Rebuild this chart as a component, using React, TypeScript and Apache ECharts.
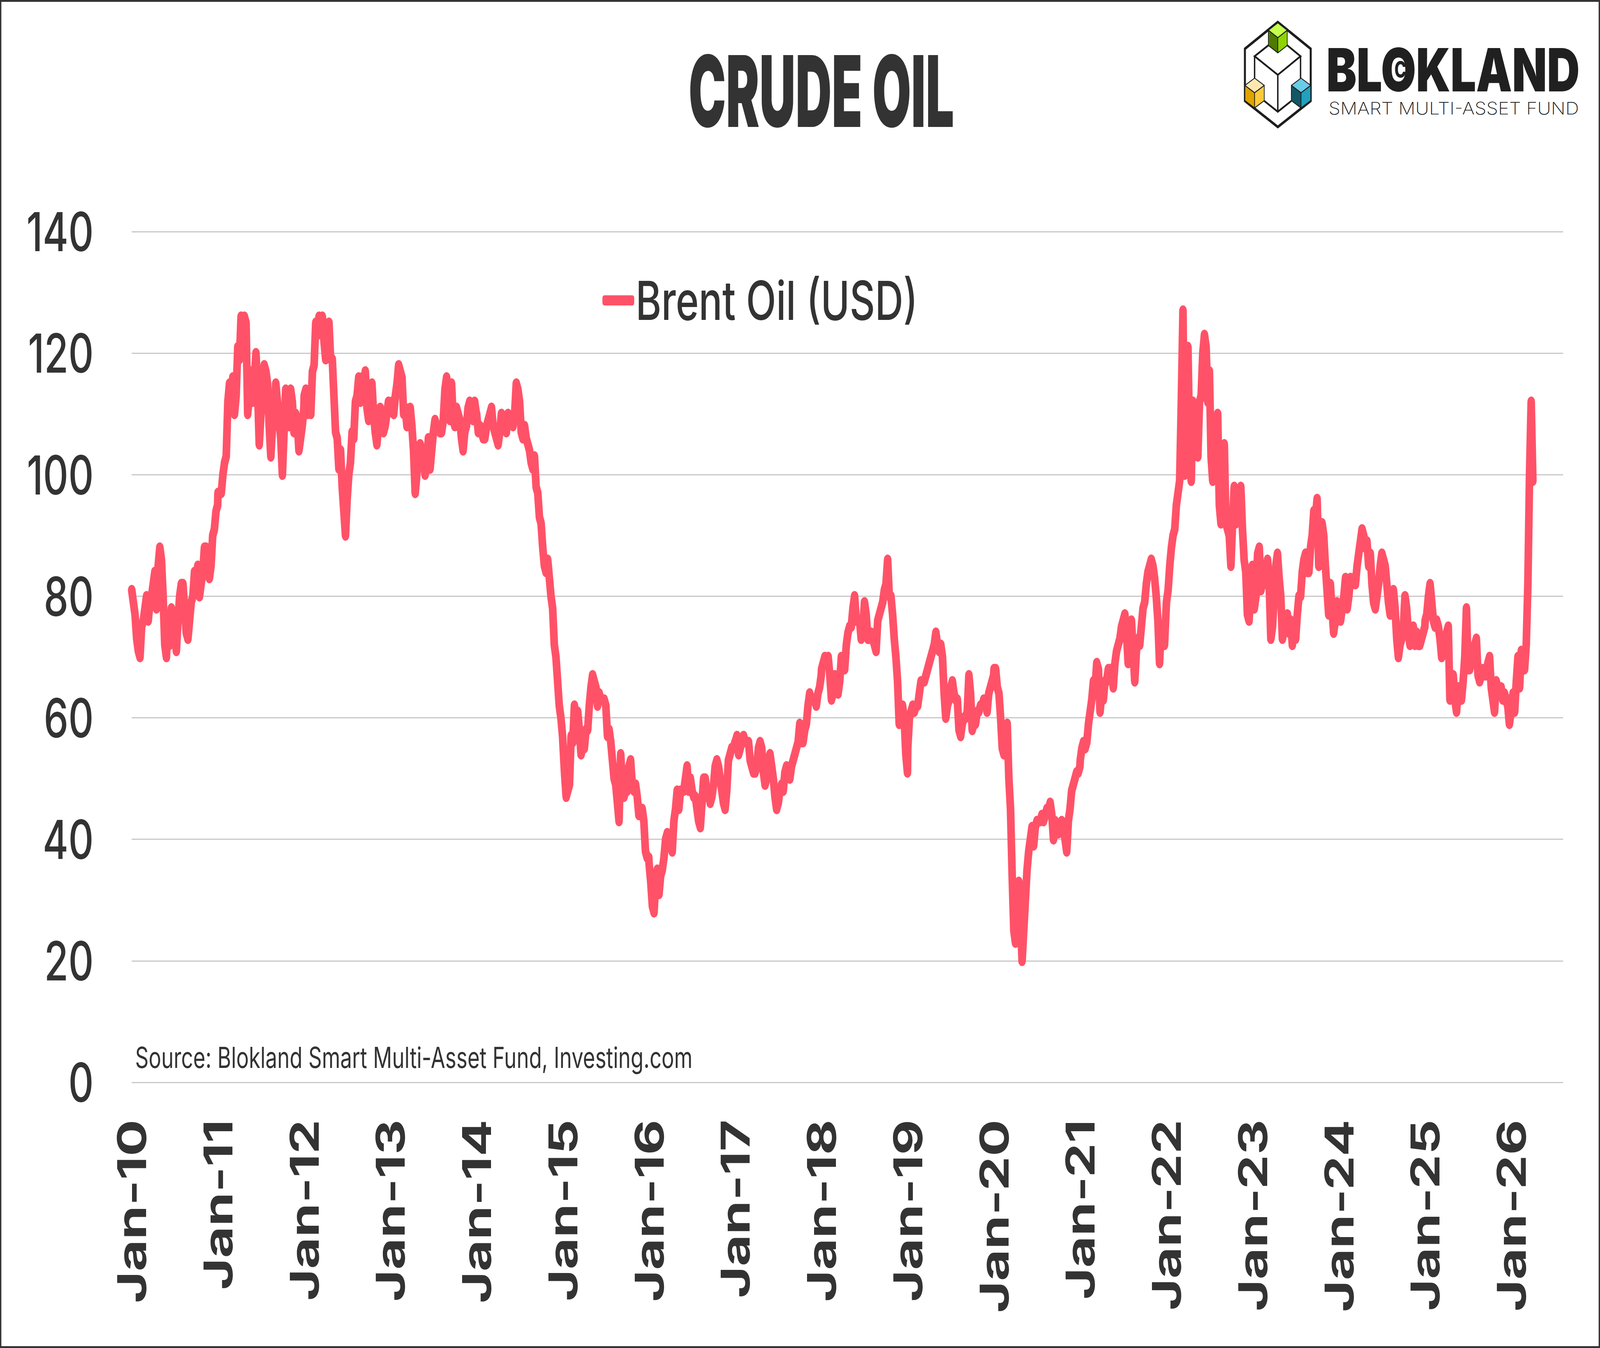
import React, { useEffect, useRef } from 'react';
import * as echarts from 'echarts';

const W = 5636;
const H = 3451;

// ---- texts ----
const TITLE = 'CRUDE OIL';
const SERIES_NAME = 'Brent Oil (USD)';
const SOURCE = 'Source: Blokland Smart Multi-Asset Fund, Investing.com';
const LOGO_NAME = 'BLOKLAND';
const LOGO_SUB = 'SMART MULTI-ASSET FUND';

// ---- weekly Brent values (week 0 .. 52 of each year) ----
const brent2010 = [81,79,77,73,71,70,75,76,78,80,76,79,80,82,84,78,85,88,86,80,72,70,77,72,78,74,77,71,76,80,82,82,78,74,73,76,79,80,84,83,85,80,82,84,88,88,86,83,85,90,91,94,95];
const brent2011 = [97,97,97,100,102,103,112,115,113,116,110,113,121,119,126,123,126,125,110,113,117,112,115,120,114,105,110,113,118,117,115,108,103,108,110,115,112,109,106,100,107,114,110,108,114,112,107,110,109,104,106,108,111];
const brent2012 = [113,114,110,111,110,117,118,125,123,126,124,126,122,119,124,125,119,119,113,107,106,101,104,98,94,90,96,100,102,107,106,112,113,116,112,116,114,117,111,109,112,115,110,107,105,108,111,109,107,108,110,112,111];
const brent2013 = [111,112,110,113,115,118,117,116,110,111,108,109,111,108,104,97,100,103,105,104,103,100,102,106,101,104,107,109,108,108,107,107,109,114,116,113,109,115,109,108,111,110,109,106,104,107,108,111,112,110,109,112,110];
const brent2014 = [110,107,108,107,106,106,108,109,110,111,108,107,106,105,107,110,109,108,107,110,109,109,108,110,115,114,112,107,106,108,106,105,104,102,101,103,98,97,93,92,88,85,84,86,83,80,78,72,70,66,62,60,57];
const brent2015 = [56,51,47,48,49,57,56,62,59,61,58,54,55,55,58,58,62,65,67,66,65,62,64,63,63,63,62,57,58,56,53,50,49,46,43,54,49,47,48,48,52,53,49,48,49,47,44,44,45,43,38,37,37];
const brent2016 = [36,33,29,28,33,35,31,34,35,37,40,41,40,39,38,43,45,48,45,48,48,48,50,52,48,50,48,47,47,45,43,42,46,50,50,47,48,46,47,49,52,53,52,50,48,46,45,48,53,54,55,55,56];
const brent2017 = [56,57,54,55,56,57,56,56,56,53,52,51,51,52,55,56,55,51,49,50,53,54,52,50,47,45,46,48,49,48,51,52,51,50,52,53,54,55,56,59,56,56,58,59,62,64,63,63,63,62,64,65,67];
const brent2018 = [68,69,70,69,70,67,63,64,67,65,64,66,70,69,68,72,74,75,75,78,80,76,76,76,73,75,79,77,73,73,74,73,72,71,76,77,78,79,81,82,86,80,80,77,73,70,66,59,60,62,60,54,51];
const brent2019 = [55,60,61,62,61,62,62,64,66,66,66,67,68,69,70,71,72,74,72,71,72,70,64,60,62,63,65,66,64,63,63,58,57,59,60,60,61,67,64,58,59,59,61,61,62,62,63,63,61,64,65,66,67];
const brent2020 = [68,68,65,64,60,55,54,57,59,50,45,34,25,23,30,33,27,20,25,30,35,38,40,42,39,42,43,43,43,44,43,44,45,45,46,44,40,43,42,41,42,43,42,40,38,43,45,48,49,50,51,51,52];
const brent2021 = [53,55,56,55,56,59,61,63,66,65,69,68,61,64,63,66,66,68,68,68,65,69,71,72,73,75,76,77,74,69,74,76,71,66,71,73,72,75,78,79,82,84,85,86,85,83,80,76,69,75,74,72,78];
const brent2022 = [79,81,85,88,90,91,95,97,99,112,127,100,112,121,105,99,112,106,108,103,112,113,120,123,121,112,117,103,99,104,107,110,95,92,97,105,92,91,90,85,92,98,92,93,96,98,91,86,84,77,76,81,85];
const brent2023 = [82,78,80,87,88,81,84,84,82,86,82,73,75,80,85,87,83,80,73,75,76,77,74,76,72,75,73,77,80,80,84,86,87,84,84,88,90,94,93,96,85,87,92,90,85,81,77,82,78,74,76,79,78];
const brent2024 = [78,76,78,80,83,78,80,83,82,83,82,85,87,89,91,90,88,89,85,87,82,79,78,80,82,85,87,86,85,82,79,77,80,81,78,73,70,72,73,75,80,78,74,72,74,75,72,74,72,72,73,74,75];
const brent2025 = [76,77,80,82,79,76,75,76,75,73,70,71,72,74,75,63,65,67,63,61,65,64,63,66,70,78,68,68,70,69,72,73,67,66,67,68,67,67,69,70,65,63,61,66,65,64,65,63,64,63,62,59,61];
const brent2026 = [61,64,61,66,70,65,71,69,68,72,82,100,112,99];

const years = [2010,2011,2012,2013,2014,2015,2016,2017,2018,2019,2020,2021,2022,2023,2024,2025,2026];
const weekly = [brent2010,brent2011,brent2012,brent2013,brent2014,brent2015,brent2016,brent2017,brent2018,brent2019,brent2020,brent2021,brent2022,brent2023,brent2024,brent2025,brent2026];
const WEEKS_PER_YEAR = 52.18;

// axes
const X_MIN = 2010;
const X_MAX = 2026.6;
const Y_MIN = 0;
const Y_MAX = 140;
const Y_STEP = 20;

const LINE_COLOR = '#FF5268';
const TEXT_COLOR = '#333333';

function buildData(): [number, number][] {
  const out: [number, number][] = [];
  years.forEach((yr, i) => {
    weekly[i].forEach((v, w) => {
      out.push([yr + w / WEEKS_PER_YEAR, v]);
    });
  });
  return out;
}

function measure(text: string, font: string): number {
  try {
    const ctx = document.createElement('canvas').getContext('2d');
    if (!ctx) return 0;
    ctx.font = font;
    return ctx.measureText(text).width;
  } catch (e) {
    return 0;
  }
}

function txt(text: string, x: number, y: number, size: number, weight: string | number, align: string, opts: any = {}) {
  return {
    type: 'text',
    x,
    y,
    scaleX: opts.scaleX ?? 1,
    scaleY: opts.scaleY ?? 1,
    z: opts.z ?? 10,
    silent: true,
    style: {
      text,
      fontSize: size,
      fontWeight: weight,
      fontFamily: opts.family ?? 'Inter',
      fill: opts.fill ?? TEXT_COLOR,
      textAlign: align,
      align,
      textVerticalAlign: 'middle',
      verticalAlign: 'middle',
    },
  };
}

function logoElements(): any[] {
  // logo geometry (decoration), defined in a local frame then mapped to page px
  const LX = 4300, LY = 30, SX = 1 / 1.1737, SY = 1 / 3;
  const P = (zx: number, zy: number) => [LX + zx * SX, LY + zy * SY];
  const stroke = '#1d1d1d';
  const els: any[] = [];
  els.push({
    type: 'polygon', z: 20, silent: true,
    shape: { points: [P(236, 80), P(372, 285), P(372, 685), P(236, 885), P(100, 685), P(100, 285)] },
    style: { fill: 'none', stroke, lineWidth: 7, lineJoin: 'miter' },
  });
  const lines = [
    [P(197, 258), P(140, 342), P(236, 485), P(330, 342), P(275, 258)],
    [P(140, 342), P(140, 512)],
    [P(330, 342), P(330, 512)],
    [P(236, 485), P(236, 768)],
    [P(180, 685), P(236, 768), P(292, 685)],
  ];
  lines.forEach((pts) => els.push({
    type: 'polyline', z: 20, silent: true,
    shape: { points: pts },
    style: { fill: 'none', stroke, lineWidth: 5 },
  }));
  const cube = (cx: number, ty: number, hw: number, dh: number, body: number, top: string, left: string, right: string) => {
    const t = P(cx, ty), l = P(cx - hw, ty + dh), r = P(cx + hw, ty + dh), m = P(cx, ty + 2 * dh);
    const lb = P(cx - hw, ty + dh + body), rb = P(cx + hw, ty + dh + body), mb = P(cx, ty + 2 * dh + body);
    const st = { stroke, lineWidth: 2.5, lineJoin: 'round' };
    els.push({ type: 'polygon', z: 21, silent: true, shape: { points: [l, m, mb, lb] }, style: { fill: left, ...st } });
    els.push({ type: 'polygon', z: 21, silent: true, shape: { points: [m, r, rb, mb] }, style: { fill: right, ...st } });
    els.push({ type: 'polygon', z: 21, silent: true, shape: { points: [t, r, m, l] }, style: { fill: top, ...st } });
  };
  cube(236, 85, 39, 57, 117, '#C3FF4B', '#4F7A00', '#8DD400');
  cube(140, 510, 40, 56, 117, '#FFE8B0', '#E0A300', '#FFCA3A');
  cube(332, 510, 40, 56, 117, '#69CCE7', '#135766', '#22A0BF');

  // wordmark
  const nameFont = '900 153px Inter';
  const wAll = measure(LOGO_NAME, nameFont);
  const wBL = measure('BL', nameFont);
  const wO = measure('O', nameFont);
  const left = 4672;
  const targetW = 5557 - 4679 + 14;
  const s = wAll > 0 ? targetW / wAll : 1;
  els.push(txt(LOGO_NAME, left, 178, 153, 900, 'left', { scaleX: s, fill: '#202020', z: 22 }));
  const oCx = wAll > 0 ? left + s * (wBL + wO / 2) : 4930;
  els.push(txt('C', oCx + 2, 178, 56, 800, 'center', { fill: '#202020', z: 23 }));

  const subFont = '200 44px Inter';
  const wSub = measure(LOGO_SUB, subFont);
  const s2 = wSub > 0 ? (5559 - 4683 + 6) / wSub : 1;
  els.push(txt(LOGO_SUB, 4680, 277, 44, 200, 'left', { scaleX: s2, fill: '#202020', z: 22 }));
  return els;
}

export default function App() {
  const ref = useRef<HTMLDivElement>(null);
  const vw = typeof window !== 'undefined' ? window.innerWidth : W;
  const vh = typeof window !== 'undefined' ? window.innerHeight : H;
  const sx = vw > 0 && vw < W ? vw / W : 1;
  const sy = vh > 0 && vh < H ? vh / H : 1;

  useEffect(() => {
    document.body.style.margin = '0';
    document.body.style.overflow = 'hidden';
    if (!ref.current) return;
    const chart = echarts.init(ref.current, undefined, { renderer: 'svg', width: W, height: H });

    const titleFont = '900 253px Inter';
    const wTitle = measure(TITLE, titleFont);
    const titleScale = wTitle > 0 ? 935 / wTitle : 0.62;

    const option: any = {
      animation: false,
      backgroundColor: '#ffffff',
      grid: { left: 464, right: W - 5506, top: 593, bottom: H - 2771, containLabel: false },
      legend: {
        data: [SERIES_NAME],
        left: 2122,
        top: 700,
        padding: 0,
        icon: 'roundRect',
        itemWidth: 112,
        itemHeight: 26,
        selectedMode: false,
        textStyle: { fontSize: 138, fontFamily: 'Inter', fontWeight: 500, color: TEXT_COLOR },
      },
      xAxis: {
        type: 'value',
        min: X_MIN,
        max: X_MAX,
        interval: 1,
        axisLine: { show: false },
        axisTick: { show: false },
        splitLine: { show: false },
        axisLabel: {
          rotate: 90,
          margin: 95,
          fontSize: 140,
          fontWeight: 'bold',
          fontFamily: 'Inter',
          color: TEXT_COLOR,
          showMaxLabel: false,
          formatter: (v: number) => {
            const r = Math.round(v);
            if (Math.abs(v - r) > 1e-6) return '';
            return 'Jan-' + String(r).slice(2);
          },
        },
      },
      yAxis: {
        type: 'value',
        min: Y_MIN,
        max: Y_MAX,
        interval: Y_STEP,
        axisLine: { show: false },
        axisTick: { show: false },
        splitLine: { lineStyle: { color: '#C8C8C8', width: 3 } },
        axisLabel: {
          margin: 134,
          fontSize: 138,
          fontWeight: 500,
          fontFamily: 'Inter',
          color: TEXT_COLOR,
        },
      },
      series: [
        {
          name: SERIES_NAME,
          type: 'line',
          data: buildData(),
          showSymbol: false,
          symbol: 'none',
          color: LINE_COLOR,
          lineStyle: { color: LINE_COLOR, width: 27, cap: 'round', join: 'round' },
          z: 3,
        },
      ],
      graphic: [
        {
          type: 'rect', silent: true, z: 30,
          shape: { x: 2, y: 2, width: W - 4, height: H - 4 },
          style: { fill: 'none', stroke: '#333333', lineWidth: 4 / sx },
        },
        txt(TITLE, 2893, 233, 253, 900, 'center', { scaleX: titleScale, fill: '#333333' }),
        txt(SOURCE, 476, 2707, 74, 400, 'left', { fill: TEXT_COLOR }),
        ...logoElements(),
      ],
    };

    chart.setOption(option);
    return () => {
      chart.dispose();
    };
  }, []);

  return (
    <div style={{ width: Math.round(W * sx) + 'px', height: Math.round(H * sy) + 'px', overflow: 'hidden', background: '#fff' }}>
      <div
        ref={ref}
        style={{
          width: W + 'px',
          height: H + 'px',
          background: '#fff',
          transform: `scale(${sx}, ${sy})`,
          transformOrigin: '0 0',
        }}
      />
    </div>
  );
}
